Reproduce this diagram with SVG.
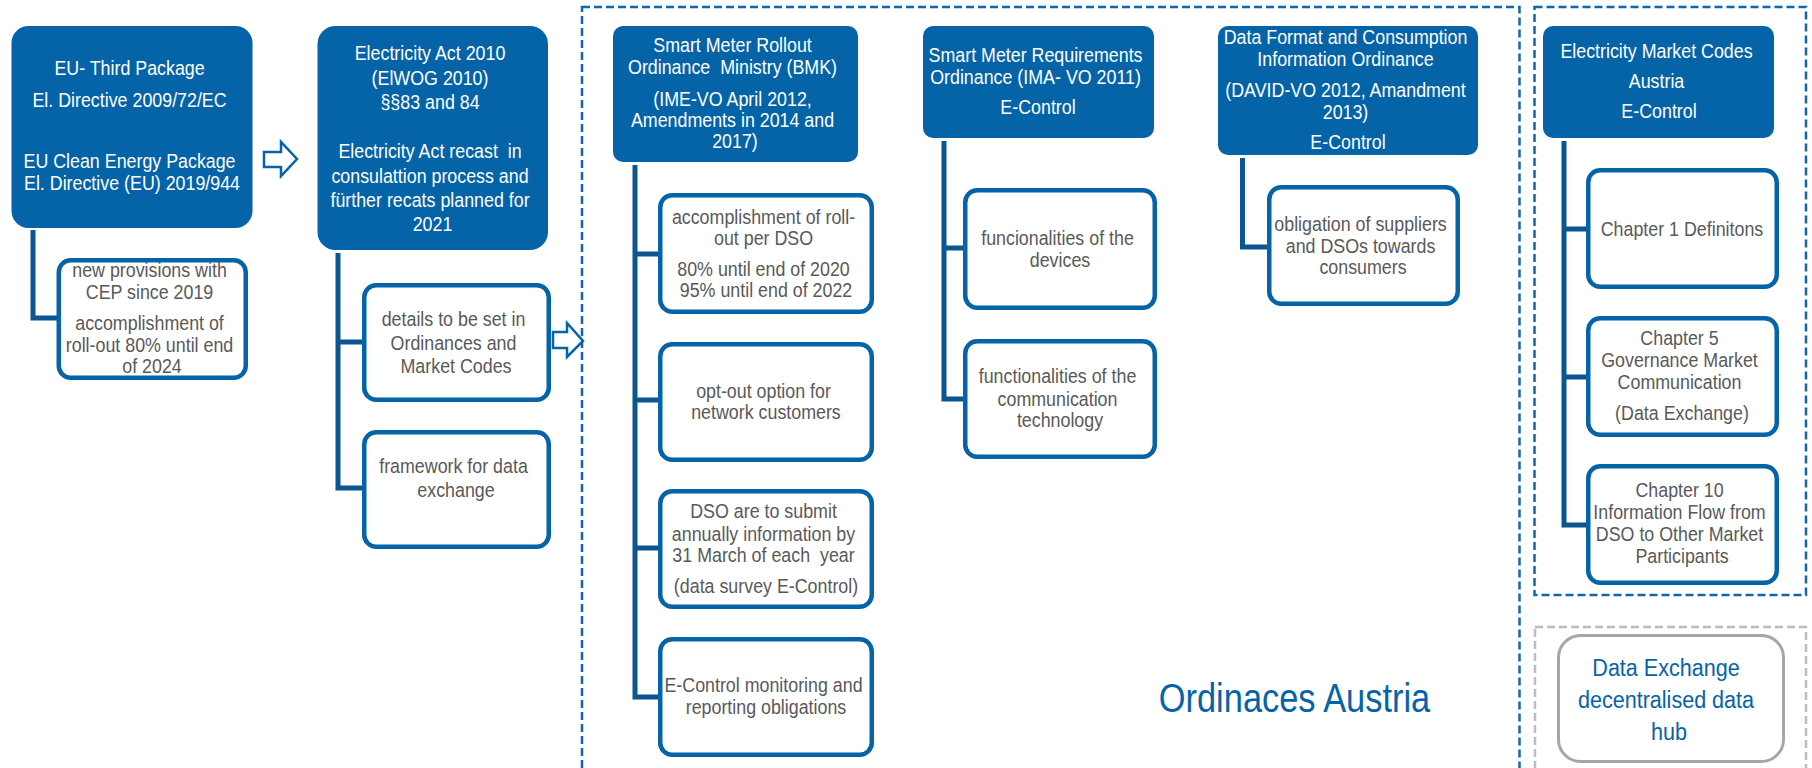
<svg xmlns="http://www.w3.org/2000/svg" width="1812" height="768" viewBox="0 0 1812 768">
<style>
.hd{fill:#0563A8}
.bx{fill:#fff;stroke:#0563A8;stroke-width:4.5}
.gb{fill:#fff;stroke:#A6A6A6;stroke-width:3}
.t{font-family:"Liberation Sans",Arial,sans-serif;font-size:20.5px;text-anchor:middle}
.tw{fill:#fff}
.tg{fill:#595959}
.tb{fill:#0563A8;font-size:24.5px}
.conn{fill:none;stroke:#0B5591;stroke-width:5}
.arr{fill:#fff;stroke:#0563A8;stroke-width:2.5;stroke-linejoin:miter}
.dsh{fill:none;stroke:#0E67B0;stroke-width:2.5;stroke-dasharray:8 4}
.dshg{fill:none;stroke:#BDBDBD;stroke-width:2.5;stroke-dasharray:8 4}
</style>

<g id="groups">
  <rect id="grp-ordinances" class="dsh" x="582" y="7" width="937.5" height="775"/>
  <rect id="grp-marketcodes" class="dsh" x="1534.5" y="7" width="271.5" height="588"/>
  <rect id="grp-datahub" class="dshg" x="1535" y="627" width="271" height="160"/>
</g>

<g id="connectors">
  <path class="conn" d="M33 230 V318 H58"/>
  <path class="conn" d="M338 253 V488 H363 M338 342 H363"/>
  <path class="conn" d="M635 165 V697 H659 M635 254 H659 M635 400 H659 M635 548 H659"/>
  <path class="conn" d="M944 141 V399 H964 M944 248 H964"/>
  <path class="conn" d="M1242.5 158 V247 H1268"/>
  <path class="conn" d="M1564 141 V525 H1587 M1564 229 H1587 M1564 377 H1587"/>
  <polygon class="arr" points="264,152 281,152 281,142 297,159 281,176 281,167 264,167"/>
  <polygon class="arr" points="553,332 567,332 567,323 583,341 567,357 567,348 553,348"/>
</g>

<g id="nodeA">
  <rect class="hd" x="11.5" y="26" width="241" height="202" rx="17"/>
  <g transform="translate(132 0) scale(0.87 1)"><text class="t tw">
    <tspan x="0" y="75">EU- Third Package</tspan>
    <tspan x="0" y="107">El. Directive 2009/72/EC</tspan>
    <tspan x="0" y="168">EU Clean Energy Package</tspan>
    <tspan x="0" y="190">El. Directive (EU) 2019/944</tspan>
  </text></g>
</g>

<g id="nodeA1">
  <rect class="bx" x="58.75" y="260.25" width="187" height="117.5" rx="12"/>
  <g transform="translate(152 0) scale(0.87 1)"><text class="t tg">
    <tspan x="0" y="277">new provisions with</tspan>
    <tspan x="0" y="299">CEP since 2019</tspan>
    <tspan x="0" y="330">accomplishment of</tspan>
    <tspan x="0" y="352">roll-out 80% until end</tspan>
    <tspan x="0" y="373">of 2024</tspan>
  </text></g>
</g>

<g id="nodeB">
  <rect class="hd" x="317.5" y="26" width="230.5" height="224" rx="18"/>
  <g transform="translate(432.5 0) scale(0.87 1)"><text class="t tw">
    <tspan x="0" y="60">Electricity Act 2010</tspan>
    <tspan x="0" y="85">(ElWOG 2010)</tspan>
    <tspan x="0" y="109">§§83 and 84</tspan>
    <tspan x="0" y="158">Electricity Act recast&#160; in</tspan>
    <tspan x="0" y="183">consulattion process and</tspan>
    <tspan x="0" y="207">fürther recats planned for</tspan>
    <tspan x="0" y="231">2021</tspan>
  </text></g>
</g>

<g id="nodeB1">
  <rect class="bx" x="364.25" y="285.25" width="184.5" height="114.5" rx="12"/>
  <g transform="translate(456 0) scale(0.87 1)"><text class="t tg">
    <tspan x="0" y="326">details to be set in</tspan>
    <tspan x="0" y="350">Ordinances and</tspan>
    <tspan x="0" y="373">Market Codes</tspan>
  </text></g>
</g>

<g id="nodeB2">
  <rect class="bx" x="364.25" y="432.25" width="184.5" height="114.5" rx="12"/>
  <g transform="translate(456 0) scale(0.87 1)"><text class="t tg">
    <tspan x="0" y="473">framework for data</tspan>
    <tspan x="0" y="497">exchange</tspan>
  </text></g>
</g>

<g id="nodeC">
  <rect class="hd" x="613" y="26" width="245" height="136" rx="10"/>
  <g transform="translate(735 0) scale(0.87 1)"><text class="t tw">
    <tspan x="0" y="52">Smart Meter Rollout</tspan>
    <tspan x="0" y="74">Ordinance&#160; Ministry (BMK)</tspan>
    <tspan x="0" y="106">(IME-VO April 2012,</tspan>
    <tspan x="0" y="127">Amendments in 2014 and</tspan>
    <tspan x="0" y="148">2017)</tspan>
  </text></g>
</g>

<g id="nodeC1">
  <rect class="bx" x="660.25" y="195.25" width="211.5" height="116.5" rx="12"/>
  <g transform="translate(766 0) scale(0.87 1)"><text class="t tg">
    <tspan x="0" y="224">accomplishment of roll-</tspan>
    <tspan x="0" y="245">out per DSO</tspan>
    <tspan x="0" y="276">80% until end of 2020</tspan>
    <tspan x="0" y="297">95% until end of 2022</tspan>
  </text></g>
</g>

<g id="nodeC2">
  <rect class="bx" x="660.25" y="344.25" width="211.5" height="115.5" rx="12"/>
  <g transform="translate(766 0) scale(0.87 1)"><text class="t tg">
    <tspan x="0" y="398">opt-out option for</tspan>
    <tspan x="0" y="419">network customers</tspan>
  </text></g>
</g>

<g id="nodeC3">
  <rect class="bx" x="660.25" y="491.25" width="211.5" height="115.5" rx="12"/>
  <g transform="translate(766 0) scale(0.87 1)"><text class="t tg">
    <tspan x="0" y="518">DSO are to submit</tspan>
    <tspan x="0" y="541">annually information by</tspan>
    <tspan x="0" y="562">31 March of each&#160; year</tspan>
    <tspan x="0" y="593">(data survey E-Control)</tspan>
  </text></g>
</g>

<g id="nodeC4">
  <rect class="bx" x="660.25" y="639.25" width="211.5" height="115.5" rx="12"/>
  <g transform="translate(766 0) scale(0.87 1)"><text class="t tg">
    <tspan x="0" y="692">E-Control monitoring and</tspan>
    <tspan x="0" y="714">reporting obligations</tspan>
  </text></g>
</g>

<g id="nodeD">
  <rect class="hd" x="923" y="26" width="231" height="112" rx="10"/>
  <g transform="translate(1038 0) scale(0.87 1)"><text class="t tw">
    <tspan x="0" y="62">Smart Meter Requirements</tspan>
    <tspan x="0" y="84">Ordinance (IMA- VO 2011)</tspan>
    <tspan x="0" y="114">E-Control</tspan>
  </text></g>
</g>

<g id="nodeD1">
  <rect class="bx" x="965.25" y="190.25" width="189.5" height="117.5" rx="12"/>
  <g transform="translate(1060 0) scale(0.87 1)"><text class="t tg">
    <tspan x="0" y="245">funcionalities of the</tspan>
    <tspan x="0" y="267">devices</tspan>
  </text></g>
</g>

<g id="nodeD2">
  <rect class="bx" x="965.25" y="341.25" width="189.5" height="115.5" rx="12"/>
  <g transform="translate(1060 0) scale(0.87 1)"><text class="t tg">
    <tspan x="0" y="383">functionalities of the</tspan>
    <tspan x="0" y="406">communication</tspan>
    <tspan x="0" y="427">technology</tspan>
  </text></g>
</g>

<g id="nodeE">
  <rect class="hd" x="1218" y="26" width="260" height="129" rx="10"/>
  <g transform="translate(1348 0) scale(0.87 1)"><text class="t tw">
    <tspan x="0" y="44">Data Format and Consumption</tspan>
    <tspan x="0" y="66">Information Ordinance</tspan>
    <tspan x="0" y="97">(DAVID-VO 2012, Amandment</tspan>
    <tspan x="0" y="119">2013)</tspan>
    <tspan x="0" y="149">E-Control</tspan>
  </text></g>
</g>

<g id="nodeE1">
  <rect class="bx" x="1269.25" y="187.25" width="188.5" height="116.5" rx="12"/>
  <g transform="translate(1363 0) scale(0.87 1)"><text class="t tg">
    <tspan x="0" y="231">obligation of suppliers</tspan>
    <tspan x="0" y="253">and DSOs towards</tspan>
    <tspan x="0" y="274">consumers</tspan>
  </text></g>
</g>

<g id="nodeF">
  <rect class="hd" x="1543" y="26" width="231" height="112" rx="10"/>
  <g transform="translate(1659 0) scale(0.87 1)"><text class="t tw">
    <tspan x="0" y="58">Electricity Market Codes</tspan>
    <tspan x="0" y="88">Austria</tspan>
    <tspan x="0" y="118">E-Control</tspan>
  </text></g>
</g>

<g id="nodeF1">
  <rect class="bx" x="1588.25" y="170.25" width="188.5" height="116.5" rx="12"/>
  <g transform="translate(1682 0) scale(0.87 1)"><text class="t tg">
    <tspan x="0" y="236">Chapter 1 Definitons</tspan>
  </text></g>
</g>

<g id="nodeF2">
  <rect class="bx" x="1588.25" y="318.25" width="188.5" height="116.5" rx="12"/>
  <g transform="translate(1682 0) scale(0.87 1)"><text class="t tg">
    <tspan x="0" y="345">Chapter 5</tspan>
    <tspan x="0" y="367">Governance Market</tspan>
    <tspan x="0" y="389">Communication</tspan>
    <tspan x="0" y="420">(Data Exchange)</tspan>
  </text></g>
</g>

<g id="nodeF3">
  <rect class="bx" x="1588.25" y="466.25" width="188.5" height="116.5" rx="12"/>
  <g transform="translate(1682 0) scale(0.87 1)"><text class="t tg">
    <tspan x="0" y="497">Chapter 10</tspan>
    <tspan x="0" y="519">Information Flow from</tspan>
    <tspan x="0" y="541">DSO to Other Market</tspan>
    <tspan x="0" y="563">Participants</tspan>
  </text></g>
</g>

<g id="nodeG">
  <rect class="gb" x="1558.5" y="635.5" width="225" height="126" rx="22"/>
  <g transform="translate(1669 0) scale(0.88 1)"><text class="t tb">
    <tspan x="0" y="676">Data Exchange</tspan>
    <tspan x="0" y="708">decentralised data</tspan>
    <tspan x="0" y="740">hub</tspan>
  </text></g>
</g>

<g id="label-ordinaces">
  <g transform="translate(1294.5 0) scale(0.86 1)"><text class="t" style="fill:#0563A8;font-size:40px" x="0" y="712">Ordinaces Austria</text></g>
</g>
</svg>
